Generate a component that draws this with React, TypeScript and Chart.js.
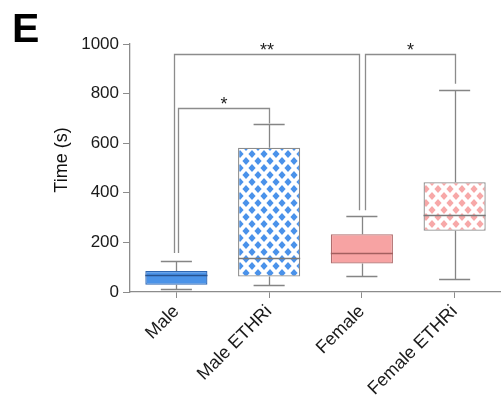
import React, { useEffect, useRef } from 'react';
import { Chart, registerables } from 'chart.js';
Chart.register(...registerables);

// ---- data ----
const categories = ['Male', 'Male ETHRi', 'Female', 'Female ETHRi'];
const whiskerLow = [13, 27, 66, 52];
const q1 = [29, 62, 115, 247];
const median = [68, 138, 157, 311];
const q3 = [85, 582, 233, 443];
const whiskerHigh = [126, 679, 306, 813];
const yTickValues = [0, 200, 400, 600, 800, 1000];

// significance comparisons
const cmpFrom = [0, 0, 2];
const cmpTo = [1, 2, 3];
const cmpLevel = [740, 960, 960];
const cmpFromEnd = [157, 157, 330];
const cmpToEnd = [679, 330, 840];
const cmpLabel = ['*', '**', '*'];

const FONT = 'Arial, "Liberation Sans", Helvetica, sans-serif';

function makePattern(color: string): CanvasPattern | string {
  const c = document.createElement('canvas');
  const w = 12;
  const h = 14;
  c.width = w;
  c.height = h;
  const g = c.getContext('2d');
  if (!g) return color;
  g.fillStyle = '#ffffff';
  g.fillRect(0, 0, w, h);
  g.fillStyle = color;
  const diamond = (cx: number, cy: number) => {
    g.beginPath();
    g.moveTo(cx, cy - 4);
    g.lineTo(cx + 3.6, cy);
    g.lineTo(cx, cy + 4);
    g.lineTo(cx - 3.6, cy);
    g.closePath();
    g.fill();
  };
  diamond(w / 2, h / 2);
  diamond(0, 0);
  diamond(w, 0);
  diamond(0, h);
  diamond(w, h);
  const p = g.createPattern(c, 'repeat');
  return p || color;
}

export default function App() {
  const ref = useRef<HTMLCanvasElement | null>(null);

  useEffect(() => {
    if (!ref.current) return;
    const blue = '#4b93e8';
    const pink = '#f7a3a3';
    const fills = [blue, makePattern('#4a92ea'), pink, makePattern('#f7a8a8')];
    const borders = ['#2f67b3', '#8c8c8c', '#b06e6e', '#8c8c8c'];
    const medianColors = ['#26528f', '#7a7a7a', '#a35f5f', '#7a7a7a'];
    const legOffsetsFrom = [2, -2, 3];
    const legOffsetsTo = [0, -3, 0];

    const overlay = {
      id: 'boxOverlay',
      afterDatasetsDraw(chart: any) {
        const ctx = chart.ctx as CanvasRenderingContext2D;
        const y = chart.scales.y;
        const meta = chart.getDatasetMeta(0);
        ctx.save();
        // medians, whiskers
        meta.data.forEach((bar: any, i: number) => {
          const x = bar.x;
          const w = bar.width;
          ctx.lineWidth = 1.3;
          ctx.strokeStyle = medianColors[i];
          const ym = Math.round(y.getPixelForValue(median[i])) + 0.5;
          ctx.beginPath();
          ctx.moveTo(x - w / 2, ym);
          ctx.lineTo(x + w / 2, ym);
          ctx.stroke();

          ctx.strokeStyle = '#858585';
          const xl = Math.round(x) + 0.5;
          const yq3 = y.getPixelForValue(q3[i]);
          const yq1 = y.getPixelForValue(q1[i]);
          const yh = Math.round(y.getPixelForValue(whiskerHigh[i])) + 0.5;
          const yl = Math.round(y.getPixelForValue(whiskerLow[i])) + 0.5;
          ctx.beginPath();
          ctx.moveTo(xl, yq3);
          ctx.lineTo(xl, yh);
          ctx.moveTo(x - w / 4, yh);
          ctx.lineTo(x + w / 4, yh);
          ctx.moveTo(xl, yq1);
          ctx.lineTo(xl, yl);
          ctx.moveTo(x - w / 4, yl);
          ctx.lineTo(x + w / 4, yl);
          ctx.stroke();
        });

        // significance brackets
        ctx.strokeStyle = '#8c8c8c';
        ctx.lineWidth = 1.3;
        ctx.fillStyle = '#222';
        ctx.font = `18px ${FONT}`;
        ctx.textAlign = 'center';
        ctx.textBaseline = 'alphabetic';
        for (let k = 0; k < cmpFrom.length; k++) {
          const xa = Math.round(meta.data[cmpFrom[k]].x + legOffsetsFrom[k]) + 0.5;
          const xb = Math.round(meta.data[cmpTo[k]].x + legOffsetsTo[k]) + 0.5;
          const yt = Math.round(y.getPixelForValue(cmpLevel[k])) + 0.5;
          const ya = y.getPixelForValue(cmpFromEnd[k]);
          const yb = y.getPixelForValue(cmpToEnd[k]);
          ctx.beginPath();
          ctx.moveTo(xa, ya);
          ctx.lineTo(xa, yt);
          ctx.lineTo(xb, yt);
          ctx.lineTo(xb, yb);
          ctx.stroke();
          ctx.fillText(cmpLabel[k], (xa + xb) / 2, yt + 1);
        }

        // y axis title
        ctx.save();
        ctx.translate(62, 160);
        ctx.rotate(-Math.PI / 2);
        ctx.font = `18px ${FONT}`;
        ctx.fillStyle = '#111';
        ctx.textAlign = 'center';
        ctx.textBaseline = 'middle';
        ctx.fillText('Time (s)', 0, 0);
        ctx.restore();

        // panel letter
        ctx.font = `bold 41px ${FONT}`;
        ctx.fillStyle = '#000';
        ctx.textAlign = 'left';
        ctx.textBaseline = 'alphabetic';
        ctx.fillText('E', 12, 42);
        ctx.restore();
      },
    };

    const chart = new Chart(ref.current, {
      type: 'bar',
      data: {
        labels: categories,
        datasets: [
          {
            data: q1.map((v, i) => [v, q3[i]]) as any,
            backgroundColor: fills as any,
            borderColor: borders,
            borderWidth: 1.3,
            borderSkipped: false,
            barPercentage: 0.67,
            categoryPercentage: 1.0,
          },
        ],
      },
      options: {
        responsive: false,
        animation: false,
        layout: { padding: { top: 44, left: 0, right: 0, bottom: 0 } },
        plugins: {
          legend: { display: false },
          tooltip: { enabled: false },
        },
        scales: {
          x: {
            offset: true,
            grid: {
              display: true,
              drawOnChartArea: false,
              drawTicks: true,
              tickLength: 6,
              color: '#8c8c8c',
              offset: false,
            },
            border: { display: true, color: '#8c8c8c', width: 1.3 },
            ticks: {
              minRotation: 45,
              maxRotation: 45,
              padding: 3,
              color: '#1a1a1a',
              font: { family: FONT, size: 18 },
            },
            afterFit: (s: any) => {
              s.height = 116;
            },
          },
          y: {
            min: 0,
            max: 1000,
            afterBuildTicks: (s: any) => {
              s.ticks = yTickValues.map((v) => ({ value: v }));
            },
            grid: {
              display: true,
              drawOnChartArea: false,
              drawTicks: true,
              tickLength: 7,
              color: '#8c8c8c',
            },
            border: { display: true, color: '#8c8c8c', width: 1.3 },
            ticks: {
              padding: 4,
              color: '#1a1a1a',
              font: { family: FONT, size: 17 },
              callback: (v: any) => String(v),
            },
            afterFit: (s: any) => {
              s.width = 130;
            },
          },
        },
      },
      plugins: [overlay],
    });
    return () => chart.destroy();
  }, []);

  return (
    <div style={{ position: 'absolute', left: 0, top: 0, width: 501, height: 408, background: '#fff' }}>
      <canvas ref={ref} width={501} height={408} style={{ display: 'block' }} />
    </div>
  );
}
